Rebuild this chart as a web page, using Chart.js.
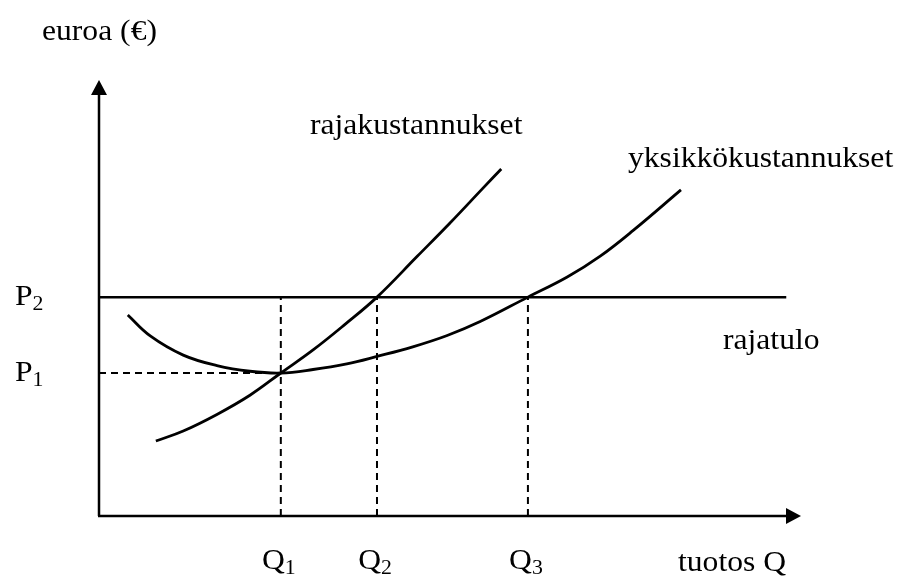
<!DOCTYPE html>
<html>
<head>
<meta charset="utf-8">
<script src="https://cdn.jsdelivr.net/npm/chart.js@4"></script>
<style>
  body { margin: 0; background: #fff; }
</style>
</head>
<body>
<canvas id="chart" width="902" height="577"></canvas>
<script>
// values, axes run 0..100
const qValues = [25.9, 39.6, 61.1]
const qLabels = ['1', '2', '3']
const pValues = [32.8, 50.2]
const pLabels = ['1', '2']
const revenueEnd = 97.9

const mcX = [8.1, 12, 16.8, 21.5, 25.9, 30.5, 35, 39.6, 45.3, 50, 54.7, 57.3]
const mcY = [17.2, 19.5, 23.3, 27.7, 32.8, 38.1, 43.9, 50.2, 59.5, 67.2, 75.2, 79.6]

const acX = [4.1, 7.3, 12, 16.8, 21.5, 25.9, 30.5, 35.3, 39.6, 44.7, 49.6, 54.3, 61.1, 66.7, 71.4, 76.1, 82.9]
const acY = [46.1, 41.3, 36.9, 34.5, 33.2, 32.8, 33.6, 34.9, 36.6, 38.8, 41.4, 44.6, 50.2, 54.8, 59.6, 65.5, 74.8]

const FONT = '"Liberation Serif", "Times New Roman", serif'
const SIZE = 29
const SUB = 20
const STRETCH = 1.09

const toPoints = (xs, ys) => xs.map((x, i) => ({ x, y: ys[i] }))

const line = (data, extra) => Object.assign({
  data,
  borderColor: '#000',
  borderWidth: 2.8,
  pointRadius: 0,
  showLine: true,
  fill: false,
  clip: false,
  tension: 0.4
}, extra)

const dashed = data => line(data, { borderWidth: 2, borderDash: [7, 5], tension: 0 })

const datasets = [
  line([{ x: 0, y: pValues[1] }, { x: revenueEnd, y: pValues[1] }], { borderWidth: 2.5, tension: 0 }),
  line(toPoints(mcX, mcY)),
  line(toPoints(acX, acY)),
  dashed([{ x: 0, y: pValues[0] }, { x: qValues[0], y: pValues[0] }])
]
qValues.forEach(q => datasets.push(dashed([{ x: q, y: 0 }, { x: q, y: pValues[1] }])))

function text(ctx, str, x, y, size) {
  ctx.save()
  ctx.font = (size || SIZE) + 'px ' + FONT
  ctx.translate(x, y)
  ctx.scale(STRETCH, 1)
  ctx.fillText(str, 0, 0)
  const w = ctx.measureText(str).width * STRETCH
  ctx.restore()
  return w
}

function textWidth(ctx, str, size) {
  ctx.save()
  ctx.font = size + 'px ' + FONT
  const w = ctx.measureText(str).width * STRETCH
  ctx.restore()
  return w
}

// letter with a subscript, like Q1 or P2
function subLabel(ctx, main, sub, x, y, center) {
  const full = textWidth(ctx, main, SIZE) + textWidth(ctx, sub, SUB)
  let left = center ? x - full / 2 : x
  left += text(ctx, main, left, y)
  text(ctx, sub, left, y + 5, SUB)
}

const axesAndText = {
  id: 'axesAndText',
  afterDatasetsDraw(chart) {
    const { ctx, scales: { x, y } } = chart
    const x0 = x.getPixelForValue(0), x1 = x.getPixelForValue(100)
    const y0 = y.getPixelForValue(0), y1 = y.getPixelForValue(100)
    ctx.save()
    ctx.strokeStyle = '#000'
    ctx.fillStyle = '#000'
    ctx.lineWidth = 2.5
    ctx.beginPath()
    ctx.moveTo(x0, y0)
    ctx.lineTo(x0, y1 + 10)
    ctx.moveTo(x0 - 1, y0)
    ctx.lineTo(x1 - 10, y0)
    ctx.stroke()
    // arrow heads
    ctx.beginPath()
    ctx.moveTo(x0, y1)
    ctx.lineTo(x0 - 8, y1 + 15)
    ctx.lineTo(x0 + 8, y1 + 15)
    ctx.closePath()
    ctx.fill()
    ctx.beginPath()
    ctx.moveTo(x1, y0)
    ctx.lineTo(x1 - 15, y0 - 8)
    ctx.lineTo(x1 - 15, y0 + 8)
    ctx.closePath()
    ctx.fill()

    ctx.textBaseline = 'alphabetic'
    qValues.forEach((q, i) => subLabel(ctx, 'Q', qLabels[i], x.getPixelForValue(q) - 2, 569, true))
    pValues.forEach((p, i) => subLabel(ctx, 'P', pLabels[i], 15, y.getPixelForValue(p) + 8, false))

    text(ctx, 'euroa (€)', 42, 40)
    text(ctx, 'tuotos Q', 678, 571)
    text(ctx, 'rajakustannukset', 310, 134)
    text(ctx, 'yksikkökustannukset', 628, 167)
    text(ctx, 'rajatulo', 723, 349)
    ctx.restore()
  }
}

new Chart(document.getElementById('chart'), {
  type: 'scatter',
  data: { datasets },
  options: {
    responsive: false,
    animation: false,
    layout: { padding: { left: 99, right: 101, top: 80, bottom: 61 } },
    scales: {
      x: { type: 'linear', min: 0, max: 100, display: false },
      y: { type: 'linear', min: 0, max: 100, display: false }
    },
    plugins: {
      legend: { display: false },
      tooltip: { enabled: false }
    }
  },
  plugins: [axesAndText]
})
</script>
</body>
</html>
